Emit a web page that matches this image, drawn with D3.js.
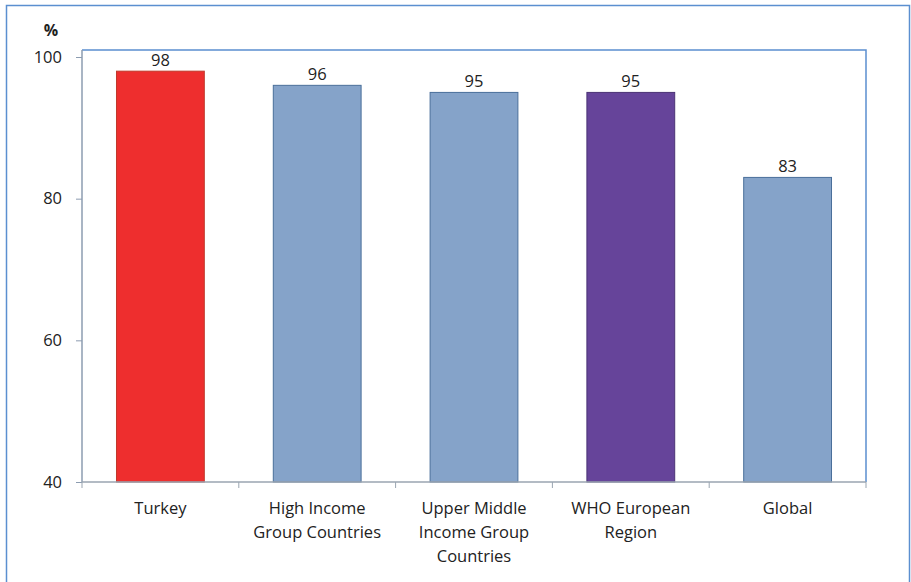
<!DOCTYPE html>
<html><head><meta charset="utf-8">
<script src="https://cdn.jsdelivr.net/npm/d3@7"></script>
<style>body{margin:0;background:#fff}svg{display:block}</style>
</head><body>
<script>
const categories = [["Turkey"],["High Income","Group Countries"],["Upper Middle","Income Group","Countries"],["WHO European","Region"],["Global"]];
const values = [98, 96, 95, 95, 83];
const colors = ["#EE2E2E", "#85A3C9", "#85A3C9", "#66449A", "#85A3C9"];
const strokes = ["#C0392B", "#4A6F9A", "#4A6F9A", "#4B3375", "#4A6F9A"];
const yTicks = [40, 60, 80, 100];

const W = 911, H = 582;
const svg = d3.select("body").append("svg").attr("width", W).attr("height", H);
const font = "'Open Sans', 'Liberation Sans', sans-serif";
const fs = 16.5;

// outer frame
svg.append("path").attr("d", `M6.5,${H} V5.5 H909.5 V${H}`).attr("fill","none").attr("stroke","#5B8FD0").attr("stroke-width",1.5);

const L = 82, R = 866, T = 50, B = 482;
const x = d3.scaleBand().domain(d3.range(values.length)).range([L, R]).paddingInner(0).paddingOuter(0);
const y = d3.scaleLinear().domain([40, 100]).range([B, 57]);

// plot area border (top/right)
svg.append("path").attr("d", `M${L},${T} H${R} V${B}`).attr("fill","none").attr("stroke","#5B8FD0").attr("stroke-width",1.5);

// bars
const bw = x.bandwidth() * 0.56;
svg.selectAll("rect.bar").data(values).join("rect")
  .attr("x", (d,i) => x(i) + (x.bandwidth()-bw)/2)
  .attr("y", d => y(d))
  .attr("width", bw)
  .attr("height", d => B - y(d))
  .attr("fill", (d,i) => colors[i])
  .attr("stroke", (d,i) => strokes[i]).attr("stroke-width", 1);

svg.selectAll("text.val").data(values).join("text")
  .attr("x", (d,i) => x(i) + x.bandwidth()/2)
  .attr("y", d => y(d) - 5)
  .attr("text-anchor","middle").attr("font-family", font).attr("font-size", fs).attr("fill","#222")
  .text(d => d);

// y axis
const yAxis = svg.append("g").attr("transform", `translate(${L},0)`)
  .call(d3.axisLeft(y).tickValues(yTicks).tickSize(6).tickPadding(14));
yAxis.select(".domain").attr("d", `M-0,${T}V${B}`).attr("stroke","#8C9CB0").attr("stroke-width",1.5);
yAxis.selectAll(".tick line").attr("stroke","#8C9CB0");
yAxis.selectAll("text").attr("font-family", font).attr("font-size", fs).attr("fill","#222");

// x axis
const xg = svg.append("g").attr("transform", `translate(0,${B})`);
xg.append("line").attr("x1", L).attr("x2", R).attr("stroke","#9AA5B1").attr("stroke-width",1.5);
const bounds = d3.range(values.length + 1).map(i => i < values.length ? x(i) : R);
xg.selectAll("line.tk").data(bounds).join("line").attr("class","tk")
  .attr("x1", d => d).attr("x2", d => d).attr("y1", 0).attr("y2", 6).attr("stroke","#9AA5B1");
const lab = xg.selectAll("text.cat").data(categories).join("text")
  .attr("text-anchor","middle").attr("font-family", font).attr("font-size", fs).attr("fill","#222");
lab.each(function(lines, i){
  d3.select(this).selectAll("tspan").data(lines).join("tspan")
    .attr("x", x(i) + x.bandwidth()/2).attr("y", (d,j) => 32 + j*24).text(d => d);
});

svg.append("text").attr("x", 51).attr("y", 36).attr("text-anchor","middle")
  .attr("font-family", font).attr("font-weight","bold").attr("font-size", 16).attr("fill","#222").text("%");
</script>
</body></html>
